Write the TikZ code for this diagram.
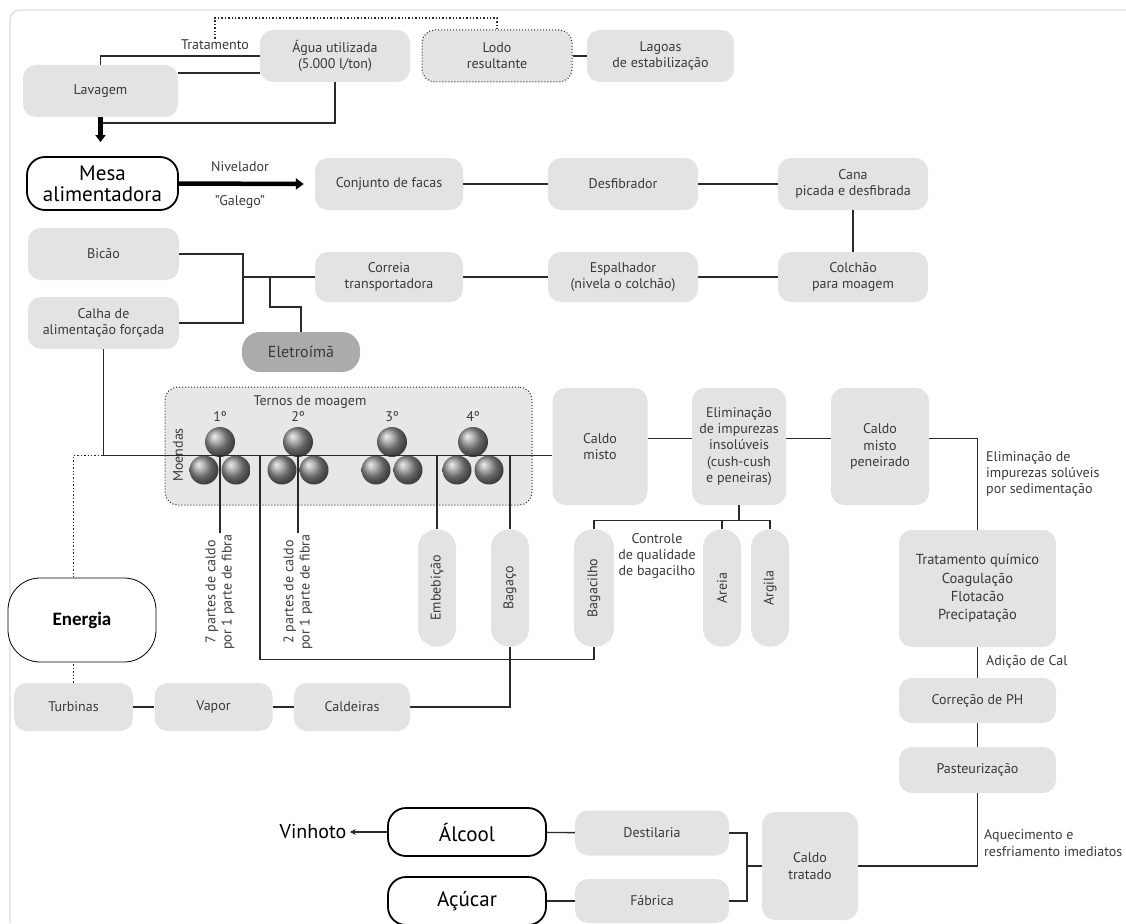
\documentclass[tikz,border=0pt]{standalone}
\usepackage{fontspec}
\setmainfont{PT Sans}
\newfontfamily\calibri{Carlito}
\usepackage{xcolor}
\usetikzlibrary{arrows.meta}

\definecolor{boxgray}{HTML}{E3E3E3}
\definecolor{darkbox}{HTML}{ABABAB}
\definecolor{txt}{HTML}{3A3A3A}
\definecolor{wire}{HTML}{2A2A2A}
\definecolor{framegray}{HTML}{DCDCDC}

\begin{document}
\begin{tikzpicture}[x=1pt,y=-1pt,
    box/.style={fill=boxgray, rounded corners=13pt, align=center, text=txt,
      font=\fontsize{14}{16.3}\selectfont, inner sep=2pt},
    pill/.style={box, rotate=90, rounded corners=18pt},
    bigbox/.style={draw=black, line width=1.8pt, fill=white, rounded corners=18pt,
      align=center, inner sep=1pt, font=\fontsize{21}{21}\selectfont},
    lbl/.style={text=txt, align=center, inner sep=1pt, font=\fontsize{14}{16.3}\selectfont},
    wire/.style={draw=wire, line width=1.4pt},
    sz/.style 2 args={minimum width=#1pt, minimum height=#2pt}]
  \useasboundingbox (0,0) rectangle (1126,923);
  \draw[framegray, line width=1.2pt, rounded corners=10pt] (10,923) -- (10,10) -- (1126,10);

  % lavagem e agua
  \node[box, sz={155}{52}] (lavagem) at (100.5,91) {Lavagem};
  \node[box, sz={150}{52}] (agua) at (335,56) {Água utilizada\\(5.000 l/ton)};
  \node[box, sz={150}{52}, draw=wire, dotted, line width=1pt] (lodo) at (497,56) {Lodo\\resultante};
  \node[box, sz={147}{52}] (lagoas) at (660.5,56) {Lagoas\\de estabilização};
  \node[lbl] (trat) at (215,45) {Tratamento};
  \coordinate (dtop) at (497,18);
  \draw[wire, dotted, line width=1.2pt] (trat.north) |- (dtop) -- (lodo.north);
  \draw[wire] (lavagem.north) |- (agua.west);
  \draw[wire] ([yshift=18pt]lavagem.east) -- ([yshift=18pt]lavagem.east -| agua.west);
  \coordinate (wj) at (100.5,123);
  \draw[wire] (agua.south) |- (wj);
  \draw[wire] (lodo.east) -- (lagoas.west);

  % mesa alimentadora
  \node[bigbox, sz={151}{53}] (mesa) at (102.5,183.5) {Mesa\\alimentadora};
  \draw[line width=4.5pt, -{Triangle[length=7pt,width=10pt]}] (lavagem.south) -- ([yshift=14pt]lavagem.south |- mesa.north);
  \node[box, sz={148}{52}] (facas) at (389,184) {Conjunto de facas};
  \draw[line width=4.5pt, -{Triangle[length=8pt,width=11pt]}] (mesa.east) -- ([xshift=-11pt]facas.west);
  \node[lbl] (nivel) at (240,167) {Nivelador};
  \node[lbl] (galego) at (240,202) {"Galego"};
  \node[box, sz={150}{52}] (desfib) at (623,184) {Desfibrador};
  \node[box, sz={150}{52}] (cana) at (853,184) {Cana\\picada e desfibrada};
  \draw[wire] (facas) -- (desfib) -- (cana);

  % alimentacao
  \node[box, sz={151}{52}] (bicao) at (103.5,254) {Bicão};
  \node[box, sz={151}{52}] (calha) at (103.5,323) {Calha de\\alimentação forçada};
  \node[box, sz={148}{50}] (correia) at (389,277) {Correia\\transportadora};
  \node[box, sz={150}{50}] (espalh) at (623,277) {Espalhador\\(nivela o colchão)};
  \node[box, sz={150}{50}] (colchao) at (853,277) {Colchão\\para moagem};
  \node[box, sz={118}{40}, fill=darkbox, rounded corners=18pt, font=\fontsize{16}{18}\selectfont] (eletro) at (301,352) {Eletroímã};
  \draw[wire] (cana) -- (colchao);
  \draw[wire] (colchao) -- (espalh) -- (correia);
  \coordinate (jn) at (243,277);
  \draw[wire] (bicao.east) -| (jn) |- (calha.east);
  \draw[wire] (jn) -- (correia.west);
  \coordinate (je) at (270,277);
  \draw[wire] (je) |- ([yshift=25pt]eletro.north) -- (eletro.north);

  % moendas
  \node[box, sz={367}{118}, draw=wire, dotted, line width=1pt, fill=boxgray!85] (moendas) at (348.5,446) {};
  \node[lbl] (ternos) at (310,402) {Ternos de moagem};
  \node[lbl, rotate=90] (moendlbl) at (178,455) {Moendas};
  \foreach \n/\c in {1/220,2/298,3/392,4/473} {
    \node[lbl] (ord\n) at (\c,417) {\n º};
    \shade[ball color=gray!85] (\c,442) circle (15pt);
    \shade[ball color=gray!85] (\c-16,470) circle (14.5pt);
    \shade[ball color=gray!85] (\c+16,470) circle (14.5pt);
  }

  % caldo
  \node[box, sz={95}{117}] (caldomisto) at (600,446.5) {Caldo\\misto};
  \node[box, sz={94}{117}] (elim) at (739,446.5) {Eliminação\\de impurezas\\insolúveis\\(cush-cush\\e peneiras)};
  \node[box, sz={98}{117}] (peneir) at (880,446.5) {Caldo\\misto\\peneirado};
  \node[box, sz={157}{117}, font=\fontsize{14.5}{18.3}\selectfont] (tratq) at (977.5,588.5) {Tratamento químico\\Coagulação\\Flotacão\\Precipatação};
  \node[lbl, anchor=west, align=left] (solub) at (985,474) {Eliminação de\\impurezas solúveis\\por sedimentação};
  \draw[wire] ([yshift=8pt]caldomisto.east) -- ([yshift=8pt]elim.west);
  \draw[wire] ([yshift=8pt]elim.east) -- ([yshift=8pt]peneir.west);
  \draw[wire] ([yshift=8pt]peneir.east) -| (tratq.north);

  % subprodutos
  \node[lbl, rotate=90] (p7) at (220,592) {7 partes de caldo\\por 1 parte de fibra};
  \node[lbl, rotate=90] (p2) at (298,592) {2 partes de caldo\\por 1 parte de fibra};
  \node[pill, sz={117}{38}] (embeb) at (437,588) {Embebição};
  \node[pill, sz={117}{38}] (bagaco) at (510,588) {Bagaço};
  \node[pill, sz={117}{40}] (bagacilho) at (594,588) {Bagacilho};
  \node[pill, sz={117}{38}] (areia) at (722,588) {Areia};
  \node[pill, sz={117}{38}] (argila) at (770,588) {Argila};
  \node[lbl] (controle) at (657,556) {Controle\\de qualidade\\de bagacilho};
  \coordinate (ej) at (739,521);
  \draw[wire] (elim.south) -- (ej);
  \draw[wire] (bagacilho.east) |- ([yshift=9pt]argila.east) -- (argila.east);
  \draw[wire] (areia.east) -- (areia.east |- ej);

  % energia
  \node[box, sz={119}{48}] (turbinas) at (73.5,707) {Turbinas};
  \node[box, sz={118}{48}] (vapor) at (213.5,707) {Vapor};
  \node[box, sz={116}{48}] (caldeiras) at (352,707) {Caldeiras};
  \draw[wire] (turbinas) -- (vapor) -- (caldeiras);
  \coordinate (mj) at (103.5,455.5);
  \draw[wire, dotted, line width=1.2pt] (turbinas.north) |- (mj);
  \node[draw=black, line width=0.8pt, fill=white, rounded corners=32pt, sz={148}{84},
    font=\calibri\bfseries\fontsize{19}{19}\selectfont] (energia) at (82,620) {Energia};

  % linha das moendas
  \draw[wire] (calha.south) |- ([yshift=-9pt]caldomisto.west);
  \draw[wire] (p7.east |- mj) -- (p7.east);
  \draw[wire] (p2.east |- mj) -- (p2.east);
  \draw[wire] (embeb.east |- mj) -- (embeb.east);
  \draw[wire] (bagaco.east |- mj) -- (bagaco.east);
  \coordinate (b1) at (260,455.5);
  \draw[wire] (b1) |- ([yshift=-13pt]bagacilho.west) -- (bagacilho.west);
  \draw[wire] (bagaco.west) |- (caldeiras.east);

  % tratamento
  \node[box, sz={157}{45}] (correcao) at (977.5,700.5) {Correção de PH};
  \node[box, sz={157}{46}] (pasteur) at (977.5,770) {Pasteurização};
  \node[lbl, anchor=west] (cal) at (985,662) {Adição de Cal};
  \draw[wire] (tratq) -- (correcao);
  \draw[wire] (correcao) -- (pasteur);
  \node[lbl, anchor=west, align=left] (aquec) at (983,843) {Aquecimento e\\resfriamento imediatos};

  % produtos
  \node[box, sz={96}{108}] (caldot) at (810,866) {Caldo\\tratado};
  \node[box, sz={154}{45}] (destil) at (652,833) {Destilaria};
  \node[box, sz={154}{44}] (fabrica) at (652,901) {Fábrica};
  \node[bigbox, sz={158}{48}] (alcool) at (467,832) {Álcool};
  \node[bigbox, sz={158}{48}] (acucar) at (467,901) {Açúcar};
  \node[font=\fontsize{20}{20}\selectfont] (vinhoto) at (313,832) {Vinhoto};
  \draw[wire] (pasteur.south) |- (caldot.east);
  \draw[wire, -{Stealth[length=6pt,width=6pt]}] (alcool.west) -- (vinhoto.east);
  \draw[wire] (alcool) -- (destil);
  \draw[wire] (acucar) -- (fabrica);
  \coordinate (dj) at (747,866);
  \draw[wire] (destil.east) -| (dj) |- (fabrica.east);
  \draw[wire] (dj) -- (caldot.west);
\end{tikzpicture}
\end{document}
